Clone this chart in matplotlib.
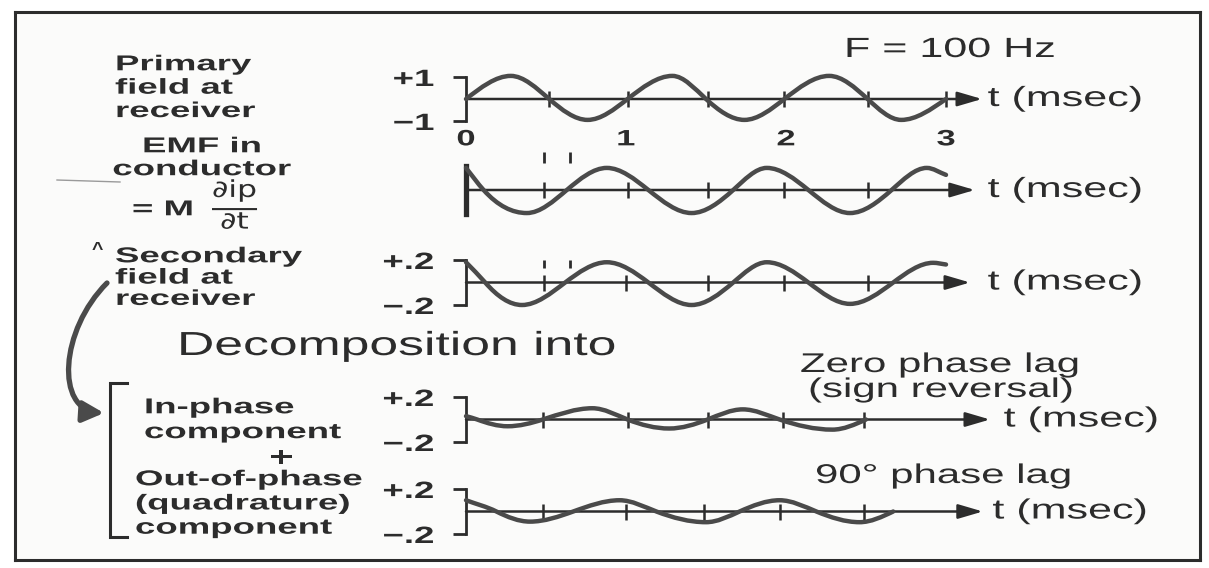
import numpy as np
import matplotlib
matplotlib.use("Agg")
import matplotlib.pyplot as plt
from matplotlib.path import Path
from matplotlib.patches import PathPatch, FancyArrowPatch
from matplotlib.transforms import Affine2D
from matplotlib.patheffects import AbstractPathEffect

plt.rcParams["font.family"] = ["Liberation Sans", "DejaVu Sans"]
plt.rcParams["mathtext.fontset"] = "dejavusans"

### Data ###
# key points of each trace: time [msec], amplitude
t_primary = [0, 0.28, 0.52, 0.76, 1.01, 1.29, 1.50, 1.74, 1.99, 2.27, 2.51, 2.72, 3.0]
primary = [0, 1.05, 0, -0.95, 0, 1.05, 0, -0.95, 0, 1.05, 0, -0.95, 0]
primary_ticks = [0.52, 1.01, 1.51, 1.99, 2.51, 3.0]

t_emf = [0, 0.11, 0.38, 0.63, 0.88, 1.14, 1.41, 1.67, 1.88, 2.14, 2.40, 2.66, 2.88, 3.0]
emf = [0.92, 0, -0.96, 0, 0.92, 0, -0.96, 0, 0.92, 0, -0.96, 0, 0.92, 0.63]
emf_ticks = [0.49, 1.01, 1.51, 1.99, 2.51]

t_secondary = [0, 0.12, 0.35, 0.62, 0.88, 1.14, 1.41, 1.67, 1.88, 2.14, 2.40, 2.67, 2.92, 3.0]
secondary = [0.18, 0, -0.20, 0, 0.18, 0, -0.20, 0, 0.18, 0, -0.19, 0, 0.175, 0.16]
secondary_ticks = [0.49, 1.0, 1.51, 1.99, 2.51]

t_inphase = [0, 0.07, 0.26, 0.48, 0.79, 1.01, 1.27, 1.51, 1.73, 1.96, 2.29, 2.50]
inphase = [0.03, 0, -0.06, 0, 0.10, 0, -0.08, 0, 0.09, 0, -0.09, 0]
inphase_ticks = [0.48, 1.01, 1.51, 1.98, 2.49]

t_quad = [0, 0.19, 0.40, 0.67, 0.96, 1.19, 1.50, 1.71, 1.96, 2.19, 2.46, 2.67]
quad = [0.10, 0, -0.09, 0, 0.10, 0, -0.095, 0, 0.10, 0, -0.095, 0]
quad_ticks = [0.48, 1.0, 1.49, 1.96, 2.49]

dbl_marks = [0.49, 0.65]          # the little "I I" above rows 2 and 3
time_ticks = [0, 1, 2, 3]
time_labels = ["0", "1", "2", "3"]
scale_1 = [-1, 1]
scale_1_labels = ["\u22121", "+1"]
scale_2 = [-0.2, 0.2]
scale_2_labels = ["\u2212.2", "+.2"]

### Style ###
W, H = 1209, 568
INK = "#2c2c2c"
WAVE = "#4a4a4a"
SX = 1.55        # the scan is stretched sideways, so the lettering is too
CAP_SIZE = 15.5  # caption font size [pt]


class Stretch(AbstractPathEffect):
    """draw text glyphs wider than the font would"""
    def __init__(self, anchor="left", sx=SX):
        super().__init__()
        self.anchor = anchor
        self.sx = sx

    def draw_path(self, renderer, gc, tpath, affine, rgbFace=None):
        ext = tpath.get_extents()
        x0 = {"left": 0, "center": (ext.x0 + ext.x1) / 2, "right": ext.x1}[self.anchor]
        st = Affine2D().translate(-x0, 0).scale(self.sx, 1).translate(x0, 0)
        renderer.draw_path(gc, tpath, st + affine, rgbFace)


def wave_path(t, y, k=1.5):
    # smooth bezier through the key points (flat at peaks/troughs)
    t = np.asarray(t, float)
    y = np.asarray(y, float)
    n = len(t)
    m = np.zeros(n)
    m[0] = (y[1] - y[0]) / (t[1] - t[0]) * (k if y[0] == 0 else 1)
    m[-1] = (y[-1] - y[-2]) / (t[-1] - t[-2]) * (k if y[-1] == 0 else 1)
    for i in range(1, n - 1):
        if (y[i] - y[i - 1]) * (y[i + 1] - y[i]) > 0:
            m[i] = k * (y[i + 1] - y[i - 1]) / (t[i + 1] - t[i - 1])
    verts = [(t[0], y[0])]
    codes = [Path.MOVETO]
    for i in range(n - 1):
        h = t[i + 1] - t[i]
        verts += [(t[i] + h / 3, y[i] + m[i] * h / 3),
                  (t[i + 1] - h / 3, y[i + 1] - m[i + 1] * h / 3),
                  (t[i + 1], y[i + 1])]
        codes += [Path.CURVE4] * 3
    return Path(verts, codes)


fig = plt.figure(figsize=(W / 100, H / 100), dpi=100)
fig.patch.set_facecolor("white")


def px_axes(left, top, right, bottom):
    return fig.add_axes([left / W, 1 - bottom / H, (right - left) / W, (bottom - top) / H])


# frame + canvas in pixel coords
bg = px_axes(15, 12, 1200, 560)
bg.set_xlim(15, 1200)
bg.set_ylim(560, 12)
bg.set_xticks([])
bg.set_yticks([])
bg.set_facecolor("#fbfbfa")
for s in bg.spines.values():
    s.set_linewidth(2.2)
    s.set_color(INK)


def draw_row(box, ylim, t, y, ticks, tip, label_x, yticks=None, ylabels=None, bar=False):
    ax = px_axes(*box)
    ax.set_xlim(0, 3)
    ax.set_ylim(ylim)
    ax.patch.set_alpha(0)
    for s in ["top", "right", "bottom"]:
        ax.spines[s].set_visible(False)
    ax.spines["left"].set_color(INK)
    ax.spines["left"].set_linewidth(3.8 if bar else 2.0)
    ax.set_xticks([])
    if yticks:
        ax.set_yticks(yticks)
        ax.set_yticklabels(ylabels, fontsize=17, fontweight="bold", color=INK,
                           path_effects=[Stretch("right")])
        ax.tick_params(axis="y", length=9.5, width=2.0, pad=13.5, color=INK)
    else:
        ax.set_yticks([])
    ax.annotate("", xy=(tip, 0), xytext=(0, 0), annotation_clip=False,
                arrowprops=dict(arrowstyle="-|>,head_length=0.75,head_width=0.22",
                                lw=1.8, color=INK, shrinkA=0, shrinkB=0, mutation_scale=20))
    ax.plot(ticks, np.zeros(len(ticks)), ls="none", marker="|", ms=11, mew=1.8,
            color=INK, clip_on=False)
    ax.add_patch(PathPatch(wave_path(t, y), fill=False, lw=3.2, ec=WAVE,
                           capstyle="round", clip_on=False, zorder=3))
    ax.text(label_x, 0, "t (msec)", fontsize=20, va="center", ha="left", color=INK,
            path_effects=[Stretch("left")])
    return ax


ax1 = draw_row((466, 77, 946, 121), (-1, 1), t_primary, primary, primary_ticks,
               3.225, 3.26, scale_1, scale_1_labels)
ax1.set_xticks(time_ticks)
ax1.set_xticklabels(time_labels, fontsize=16, fontweight="bold", color=INK,
                    path_effects=[Stretch("center")])
ax1.tick_params(axis="x", length=0, pad=6)

ax2 = draw_row((466, 166, 946, 214), (-1, 1), t_emf, emf, emf_ticks,
               3.18, 3.26, bar=True)
ax2.vlines(dbl_marks, 1.12, 1.58, colors=INK, lw=2.0, clip_on=False)

ax3 = draw_row((466, 260, 946, 305), (-0.2, 0.2), t_secondary, secondary, secondary_ticks,
               3.15, 3.26, scale_2, scale_2_labels)
ax3.vlines(dbl_marks, 0.13, 0.2, colors=INK, lw=2.0, clip_on=False)

ax4 = draw_row((466, 397, 946, 442), (-0.2, 0.2), t_inphase, inphase, inphase_ticks,
               3.275, 3.36, scale_2, scale_2_labels)
ax5 = draw_row((466, 489, 946, 534), (-0.2, 0.2), t_quad, quad, quad_ticks,
               3.23, 3.29, scale_2, scale_2_labels)

# left hand captions: text, x, first baseline y, alignment, line spacing
captions = [
    ("Primary\nfield at\nreceiver", 115, 70, "left", 1.15),
    ("EMF in\nconductor", 202, 152, "center", 1.12),
    ("= M", 132, 215, "left", 1.0),
    ("Secondary\nfield at\nreceiver", 115, 262, "left", 1.02),
    ("In-phase\ncomponent", 144, 413, "left", 1.24),
    ("Out-of-phase\n(quadrature)\ncomponent", 135, 485, "left", 1.2),
]
em = CAP_SIZE / 72 * 100
for txt, x, y, ha, ls in captions:
    bg.text(x, y - 0.73 * em, txt, fontsize=CAP_SIZE, fontweight="bold", color=INK,
            ha=ha, va="top", multialignment=ha, linespacing=ls,
            path_effects=[Stretch(ha, 1.7)])
bg.text(281, 456, "+", fontsize=20, fontweight="bold", color=INK, ha="center",
        va="center_baseline", path_effects=[Stretch("center", 1.5)])
bg.text(212, 204, r"$\frac{\partial\mathrm{ip}}{\partial\mathrm{t}}$", fontsize=24, color=INK,
        ha="left", va="center", path_effects=[Stretch("left", 1.35)])
bg.text(97, 250, "^", fontsize=14, fontweight="bold", color=INK, ha="center", va="center")

bg.text(177, 355, "Decomposition into", fontsize=24, color=INK, va="baseline",
        path_effects=[Stretch("left")])
bg.text(844, 57, "F = 100 Hz", fontsize=20, color=INK, va="baseline",
        path_effects=[Stretch("left")])
bg.text(800, 372, "Zero phase lag", fontsize=19.5, color=INK, va="baseline",
        path_effects=[Stretch("left")])
bg.text(808, 397, "(sign reversal)", fontsize=19.5, color=INK, va="baseline",
        path_effects=[Stretch("left")])
bg.text(815, 483, "90\u00b0 phase lag", fontsize=19.5, color=INK, va="baseline",
        path_effects=[Stretch("left")])

# bracket round the two components, and the curved pointer into it
bg.plot([127, 110, 110, 127], [383, 383, 537, 537], color=INK, lw=2.2,
        solid_joinstyle="miter")
arc = Path([(107, 283), (60, 330), (55, 410), (104, 413)],
           [Path.MOVETO, Path.CURVE4, Path.CURVE4, Path.CURVE4])
bg.add_patch(FancyArrowPatch(path=arc, arrowstyle="-|>,head_length=0.7,head_width=0.35",
                             mutation_scale=18, lw=3.8, color="#4a4a4a"))
# scanner smudge on the left
bg.plot([57, 120], [180, 182], color="#9a9a9a", lw=1)

fig.savefig("out.png", dpi=100, facecolor=fig.get_facecolor())
